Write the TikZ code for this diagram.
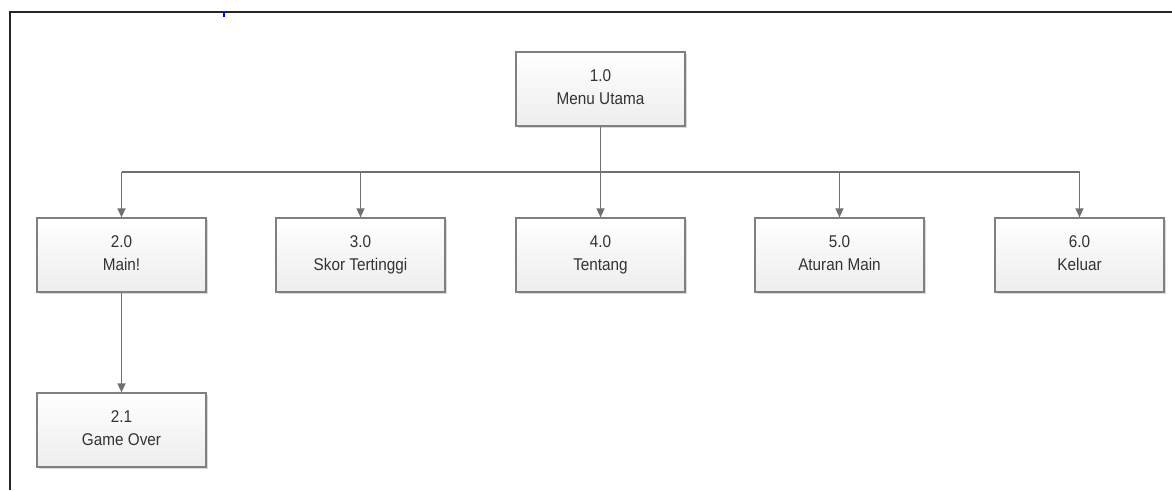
\documentclass[tikz,border=0pt]{standalone}
\usepackage{fontspec}
\setmainfont{Liberation Sans}[FakeStretch=0.9]
\usepackage{tikz}
\usetikzlibrary{arrows.meta, shadows, calc}
\definecolor{box-line}{RGB}{128,128,128}
\definecolor{box-text}{RGB}{51,51,51}
\definecolor{conn-line}{RGB}{112,112,112}

\tikzset{
    menubox/.style={draw=box-line, line width=1.2pt, top color=white, bottom color=black!7,
        minimum width=169pt, minimum height=74pt, inner sep=0pt, align=center,
        text=box-text, font=\fontsize{17}{23.4}\selectfont,
        execute at begin node=\rule{0pt}{16pt}, execute at end node=\vphantom{g},
        drop shadow={shadow xshift=1.5pt, shadow yshift=-1.5pt, opacity=0.15, fill=black}},
    conn/.style={draw=conn-line, line width=1.3pt},
    arrowconn/.style={conn, -{Triangle[length=9pt, width=8pt]}}
}

\begin{document}
\begin{tikzpicture}[x=1pt, y=-1pt]
    \useasboundingbox (0,0) rectangle (1172,490);

    % Bingkai
    \draw[line width=2.2pt, black!85] (10,490) -- (10,12) -- (1172,12);
    \draw[blue, line width=1.2pt] (224,12) -- (224,17);

    % Menu utama
    \node[menubox] (m10) at (600.5,89) {1.0\\Menu Utama};

    % Submenu
    \foreach \name/\x/\label in {m20/121.5/{2.0\\Main!}, m30/360.5/{3.0\\Skor Tertinggi},
        m40/600.5/{4.0\\Tentang}, m50/839.5/{5.0\\Aturan Main}, m60/1079.5/{6.0\\Keluar}} {
        \node[menubox] (\name) at (\x,255) {\label};
    }
    \node[menubox] (m21) at (121.5,430) {2.1\\Game Over};

    % Garis penghubung
    \coordinate (bus) at (600.5,172);
    \draw[conn] (m10.south) -- (bus);
    \draw[conn] (bus -| m20.north) -- (bus -| m60.north);
    \foreach \name in {m20, m30, m40, m50, m60} {
        \draw[arrowconn] (bus -| \name.north) -- (\name.north);
    }
    \draw[arrowconn] (m20.south) -- (m21.north);
\end{tikzpicture}
\end{document}
